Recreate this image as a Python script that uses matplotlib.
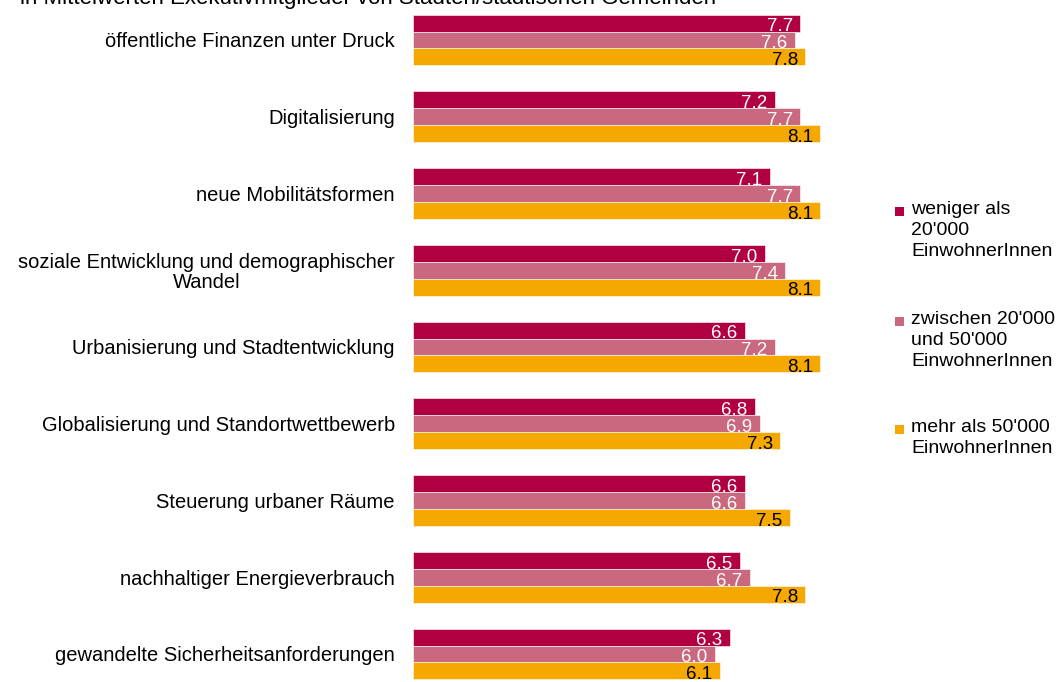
import numpy as np
import matplotlib.pyplot as plt
from matplotlib.patches import Rectangle

plt.rcParams['font.family'] = ['Liberation Sans', 'DejaVu Sans']

# data
categories = ["öffentliche Finanzen unter Druck", "Digitalisierung", "neue Mobilitätsformen",
              "soziale Entwicklung und demographischer\nWandel", "Urbanisierung und Stadtentwicklung",
              "Globalisierung und Standortwettbewerb", "Steuerung urbaner Räume",
              "nachhaltiger Energieverbrauch", "gewandelte Sicherheitsanforderungen"]
small = [7.7, 7.2, 7.1, 7.0, 6.6, 6.8, 6.6, 6.5, 6.3]
medium = [7.6, 7.7, 7.7, 7.4, 7.2, 6.9, 6.6, 6.7, 6.0]
large = [7.8, 8.1, 8.1, 8.1, 8.1, 7.3, 7.5, 7.8, 6.1]
series_names = ["weniger als\n20'000\nEinwohnerInnen",
                "zwischen 20'000\nund 50'000\nEinwohnerInnen",
                "mehr als 50'000\nEinwohnerInnen"]
title = "in Mittelwerten Exekutivmitglieder von Städten/städtischen Gemeinden"

colors = ["#B00042", "#C9687E", "#F5A800"]
textcol = ["white", "white", "black"]

W, H = 1063, 682
fig = plt.figure(figsize=(W/100, H/100), dpi=100)
ax = fig.add_axes([413/W, 0, 437/W, 1])

y = np.arange(len(categories))
h = 0.22
for i, vals in enumerate([small, medium, large]):
    pos = y + (i - 1) * h
    ax.barh(pos, vals, height=h, color=colors[i], edgecolor="white", linewidth=0.4)
    for p, v in zip(pos, vals):
        ax.text(v - 0.15, p + 0.05, f"{v:.1f}", ha="right", va="center",
                fontsize=13.5, color=textcol[i])

ax.set_xlim(0, 437/50.3)
ax.set_ylim(8.365, -0.521)
ax.set_yticks(y)
ax.set_yticklabels(categories, fontsize=14.5, multialignment="center", linespacing=1.05)
ax.tick_params(axis="y", length=0, pad=13)
ax.set_xticks([])
for s in ax.spines.values():
    s.set_visible(False)

fig.text(20/W, 1 - 4/H, title, fontsize=16, va="baseline", ha="left")

# legend: square aligned with first line of each entry
leg_tops = [204, 314, 422]
for i, name in enumerate(series_names):
    t = leg_tops[i]
    fig.add_artist(Rectangle((895/W, 1 - (t + 12)/H), 9/W, 9/H, transform=fig.transFigure,
                             color=colors[i], lw=0))
    fig.text(911/W, 1 - (t - 3)/H, name, fontsize=14, va="top", ha="left", linespacing=1.32)

plt.savefig("out.png", dpi=100)
